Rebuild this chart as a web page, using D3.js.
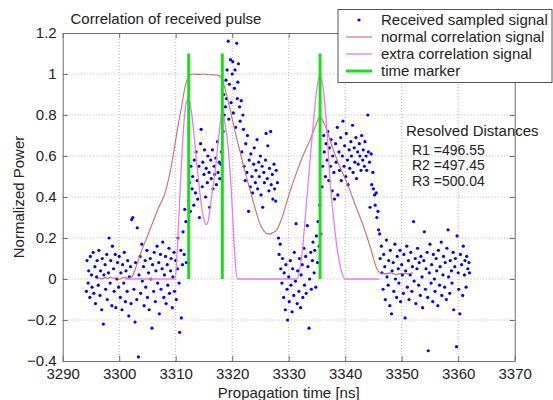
<!DOCTYPE html>
<html>
<head>
<meta charset="utf-8">
<script src="https://cdn.jsdelivr.net/npm/d3@7"></script>
<style>
  html, body { margin: 0; padding: 0; background: #fff; }
  svg { display: block; }
  text { font-family: Arial, "Liberation Sans", Helvetica, sans-serif; fill: #222; }
</style>
</head>
<body>
<svg id="chart" width="553" height="400"></svg>
<script>
// ---------- DATA ----------
const xTicks = [3290, 3300, 3310, 3320, 3330, 3340, 3350, 3360, 3370];
const yTicks = [-0.4, -0.2, 0, 0.2, 0.4, 0.6, 0.8, 1, 1.2];

const seriesNames = ["Received sampled signal", "normal correlation signal", "extra correlation signal", "time marker"];

// received sampled signal: [time ns, normalized power]
const sampledSignal = [
[3294.2,-0.06],[3294.3,0.09],[3294.5,-0.02],[3294.6,0.04],[3294.8,-0.09],[3294.9,0.11],[3295.1,0.02],[3295.2,-0.04],[3295.4,0.13],[3295.5,-0.07],
[3295.7,0.06],[3295.8,-0.12],[3296.0,0.01],[3296.1,0.09],[3296.3,-0.03],[3296.4,0.14],[3296.6,-0.08],[3296.7,0.04],[3296.9,-0.15],[3297.0,0.1],
[3297.2,-0.22],[3297.3,0.02],[3297.5,0.07],[3297.6,-0.05],[3297.8,0.12],[3297.9,-0.1],[3298.1,0.03],[3298.2,0.2],[3298.4,-0.02],[3298.5,0.09],
[3298.7,-0.13],[3298.8,0.16],[3299.0,0.05],[3299.1,-0.06],[3299.3,0.12],[3299.4,-0.14],[3299.6,0.0],[3299.7,0.08],[3299.9,-0.04],[3300.0,0.11],
[3300.2,-0.09],[3300.3,0.03],[3300.5,-0.15],[3300.6,0.07],[3300.8,-0.02],[3300.9,0.13],[3301.1,-0.11],[3301.2,0.04],[3301.4,-0.06],[3301.5,0.09],
[3301.7,-0.18],[3301.8,0.01],[3302.0,0.06],[3302.1,-0.12],[3302.2,0.29],
[3302.4,0.3],[3302.6,-0.05],[3302.8,-0.21],[3302.9,0.08],[3303.1,-0.1],[3303.2,0.25],[3303.4,-0.38],[3303.5,0.02],[3303.7,0.11],[3303.8,-0.07],
[3304.0,0.17],[3304.1,-0.01],[3304.3,0.06],[3304.4,-0.13],[3304.6,0.09],[3304.7,-0.04],[3304.9,0.14],[3305.0,-0.09],[3305.2,0.03],[3305.3,-0.15],
[3305.5,0.1],[3305.6,0.0],[3305.8,-0.24],[3305.9,0.07],[3306.1,-0.06],[3306.2,0.13],[3306.4,-0.11],[3306.5,0.04],[3306.7,0.16],[3306.8,-0.02],
[3307.0,0.08],[3307.1,-0.17],[3307.3,0.12],[3307.4,-0.05],[3307.6,0.05],[3307.7,0.18],[3307.9,-0.09],[3308.0,0.02],[3308.2,0.11],[3308.3,-0.12],
[3308.5,0.07],[3308.6,-0.03],[3308.8,0.15],[3308.9,-0.07],[3309.1,0.04],[3309.2,0.1],[3309.4,-0.14],[3309.5,0.01],[3309.7,0.13],[3309.8,-0.06],
[3310.0,0.09],[3310.1,-0.1],[3310.3,0.05],[3310.4,0.2],[3310.6,-0.02],[3310.7,-0.26],[3310.9,0.14],[3311.0,-0.19],[3311.2,0.07],[3311.3,0.23],
[3311.5,0.12],[3311.6,0.34],[3311.8,0.28],[3311.9,0.08],
[3312.3,0.38],[3312.4,0.47],[3312.6,0.33],[3312.7,0.55],[3312.9,0.44],[3313.0,0.5],[3313.2,0.36],[3313.3,0.58],[3313.5,0.42],[3313.6,0.62],
[3313.8,0.48],[3313.9,0.39],[3314.1,0.55],[3314.2,0.3],[3314.4,0.66],[3314.5,0.73],[3314.7,0.45],[3314.8,0.57],[3315.0,0.51],[3315.1,0.63],
[3315.3,0.4],[3315.4,0.54],[3315.6,0.47],[3315.7,0.6],[3315.9,0.52],[3316.0,0.35],[3316.2,0.58],[3316.3,0.49],[3316.5,0.63],[3316.6,0.44],
[3316.8,0.55],[3316.9,0.51],[3317.1,0.59],[3317.2,0.46],[3317.4,0.67],[3317.5,0.52],[3317.7,0.57],[3317.8,0.49],[3318.0,0.56],[3318.1,0.62],
[3318.4,0.72],[3318.5,0.9],[3318.6,0.8],[3318.8,0.84],[3318.9,0.97],[3319.0,0.88],[3319.1,1.02],[3319.3,1.16],[3319.4,0.78],[3319.5,0.95],
[3319.7,1.07],[3319.8,0.86],[3320.0,1.0],[3320.1,1.06],[3320.2,0.81],[3320.4,0.93],[3320.5,1.02],[3320.6,0.74],[3320.8,1.15],[3320.9,0.88],
[3321.0,0.96],[3321.1,1.05],[3321.3,0.84],[3321.4,0.77],
[3321.6,0.87],[3321.7,0.62],[3321.9,0.8],[3322.0,0.73],[3322.1,0.55],[3322.3,0.48],[3322.4,0.66],[3322.6,0.52],[3322.7,0.7],[3322.9,0.33],
[3323.0,0.58],[3323.2,0.45],[3323.3,0.61],[3323.5,0.5],[3323.6,0.42],[3323.8,0.56],[3323.9,0.64],[3324.1,0.47],[3324.2,0.53],[3324.4,0.68],
[3324.5,0.44],[3324.7,0.57],[3324.8,0.5],[3325.0,0.6],[3325.1,0.41],[3325.3,0.55],[3325.4,0.35],[3325.6,0.52],[3325.7,0.47],[3325.9,0.58],
[3326.0,0.71],[3326.2,0.49],[3326.3,0.65],[3326.5,0.43],[3326.6,0.54],[3326.8,0.72],[3326.9,0.46],[3327.1,0.51],[3327.2,0.39],[3327.4,0.56],
[3327.5,0.44],[3327.7,0.38],[3327.8,0.53],[3328.0,0.47],
[3328.2,0.2],[3328.3,0.12],[3328.5,0.17],[3328.6,0.05],[3328.8,-0.02],[3328.9,0.1],[3329.1,-0.09],[3329.2,0.03],[3329.4,-0.15],[3329.5,0.07],
[3329.7,-0.05],[3329.8,-0.2],[3330.0,0.01],[3330.1,-0.11],[3330.3,0.09],[3330.4,-0.03],[3330.6,-0.16],[3330.7,0.05],[3330.9,-0.08],[3331.0,0.13],
[3331.2,-0.01],[3331.3,0.27],[3331.5,-0.12],[3331.6,0.04],[3331.8,-0.06],[3331.9,0.1],[3332.1,-0.14],[3332.2,0.02],[3332.4,0.07],[3332.5,-0.09],
[3332.7,0.15],[3332.8,-0.03],[3333.0,0.11],[3333.1,-0.07],[3333.3,0.26],[3333.4,0.06],[3333.6,-0.24],[3333.7,0.0],[3333.9,0.13],[3334.0,-0.05],
[3334.2,0.09],[3334.3,0.18],[3334.5,0.03],[3334.6,0.14],[3334.8,-0.04],[3334.9,0.21],[3335.1,0.08],[3335.2,0.28],[3335.4,0.16],[3335.5,0.36],
[3335.7,0.22],
[3335.9,0.45],[3336.0,0.55],[3336.2,0.7],[3336.3,0.62],[3336.5,0.5],[3336.6,0.66],[3336.8,0.58],[3336.9,0.72],[3337.1,0.48],[3337.2,0.64],
[3337.4,0.55],[3337.5,0.68],[3337.7,0.43],[3337.8,0.6],[3338.0,0.52],[3338.1,0.39],[3338.3,0.66],[3338.4,0.57],[3338.6,0.74],[3338.7,0.41],
[3338.9,0.62],[3339.0,0.53],[3339.2,0.69],[3339.3,0.48],[3339.5,0.6],[3339.6,0.77],[3339.8,0.55],[3339.9,0.65],[3340.1,0.5],[3340.2,0.71],
[3340.4,0.58],[3340.5,0.46],[3340.7,0.63],[3340.8,0.54],[3341.0,0.67],[3341.1,0.6],[3341.3,0.75],[3341.4,0.52],[3341.6,0.64],[3341.7,0.57],
[3341.9,0.69],[3342.0,0.49],[3342.2,0.62],[3342.3,0.56],[3342.5,0.66],[3342.6,0.6],[3342.8,0.53],[3342.9,0.7],[3343.1,0.58],[3343.2,0.63],
[3343.4,0.55],[3343.5,0.67],[3343.7,0.6],[3343.8,0.53],[3344.0,0.8],[3344.1,0.62],[3344.3,0.57],[3344.4,0.35],[3344.6,0.61],[3344.7,0.46],
[3344.9,0.52],[3345.0,0.44],[3345.2,0.41],[3345.3,0.36],[3345.5,0.42],[3345.6,0.3],[3345.8,0.33],[3345.9,0.24],
[3346.1,0.22],[3346.2,0.1],[3346.4,0.16],[3346.5,0.03],[3346.7,-0.05],[3346.8,0.12],[3347.0,0.06],[3347.1,-0.1],[3347.3,0.19],[3347.4,0.01],
[3347.6,-0.03],[3347.7,0.09],[3347.9,-0.13],[3348.0,0.14],[3348.2,-0.17],[3348.3,0.04],[3348.5,0.08],[3348.6,-0.06],[3348.8,0.17],[3348.9,0.0],
[3349.1,-0.09],[3349.2,0.11],[3349.4,0.05],[3349.5,-0.02],[3349.7,0.14],[3349.8,-0.11],[3350.0,0.07],[3350.1,0.02],[3350.3,-0.07],[3350.4,0.12],
[3350.6,-0.19],[3350.7,0.04],[3350.9,0.16],[3351.0,-0.04],[3351.2,0.09],[3351.3,-0.1],[3351.5,0.02],[3351.6,0.13],[3351.8,-0.06],[3351.9,0.06],
[3352.1,0.28],[3352.2,-0.01],[3352.4,0.1],[3352.5,-0.12],[3352.7,0.05],[3352.8,0.15],[3353.0,-0.03],[3353.1,0.08],[3353.3,-0.08],[3353.4,0.11],
[3353.6,0.01],[3353.7,-0.14],[3353.9,0.09],[3354.0,0.23],[3354.2,-0.05],[3354.3,0.05],[3354.5,0.13],[3354.6,-0.09],[3354.7,-0.35],[3354.9,0.03],
[3355.0,0.17],[3355.2,-0.02],[3355.3,0.07],[3355.5,-0.11],[3355.6,0.12],[3355.8,0.0],[3355.9,-0.06],[3356.1,0.1],[3356.2,0.04],[3356.4,-0.13],
[3356.5,0.14],[3356.7,-0.03],[3356.8,0.06],[3357.0,0.18],[3357.1,-0.08],[3357.3,0.02],[3357.4,0.11],[3357.6,-0.04],[3357.7,0.08],[3357.9,-0.1],
[3358.0,0.15],[3358.2,0.24],[3358.3,0.01],[3358.5,-0.07],[3358.6,0.09],[3358.8,0.04],[3358.9,-0.02],[3359.1,0.13],[3359.2,-0.15],[3359.4,0.06],
[3359.5,0.1],[3359.7,-0.33],[3359.8,0.21],[3360.0,0.03],[3360.1,-0.05],[3360.3,-0.17],[3360.4,0.12],[3360.6,0.07],[3360.8,-0.08],[3360.9,0.16],
[3361.1,0.02],[3361.2,0.09],[3361.4,-0.04],[3361.5,0.11],[3361.7,0.05],[3361.9,0.08],[3362.0,0.03]
];

// normal correlation signal
const normalCorrelation = [
[3296.0,0.0],[3296.5,0.005],[3297.0,0.0],[3297.5,0.008],[3298.0,0.002],[3298.5,0.01],[3299.0,0.003],[3299.5,0.006],[3300.0,0.0],
[3300.5,0.005],[3301.0,0.01],[3301.5,0.004],[3302.2,0.01],[3303.0,0.06],[3304.0,0.14],[3305.0,0.21],[3306.0,0.28],[3307.0,0.35],
[3308.0,0.41],[3309.0,0.52],[3309.6,0.61],[3310.3,0.73],[3311.1,0.85],[3311.6,0.93],[3312.0,0.97],[3312.5,0.995],[3313.0,1.0],
[3314.0,0.998],[3315.0,1.0],[3316.0,0.996],[3317.0,0.995],[3317.8,0.99],[3318.3,0.97],[3318.8,0.92],[3319.6,0.83],[3320.5,0.72],
[3321.4,0.62],[3322.3,0.52],[3323.1,0.44],[3324.0,0.35],[3324.9,0.27],[3325.6,0.235],[3326.4,0.22],[3327.2,0.225],[3327.9,0.24],
[3328.7,0.29],[3329.6,0.37],[3330.5,0.45],[3331.4,0.52],[3332.5,0.6],[3333.8,0.68],[3334.8,0.75],[3335.5,0.79],[3336.1,0.77],
[3336.7,0.73],[3337.9,0.63],[3339.0,0.55],[3340.3,0.47],[3341.8,0.36],[3343.2,0.26],[3344.5,0.15],[3345.6,0.05],[3346.2,0.03],
[3347.0,0.025],[3348.0,0.03],[3349.0,0.022],[3350.0,0.028],[3351.0,0.025],[3352.0,0.03]
];

// extra correlation signal
const extraCorrelation = [
[3301.0,0],[3309.9,0],[3310.3,0.15],[3310.8,0.44],[3311.3,0.7],[3311.8,0.85],[3312.3,0.886],[3312.7,0.83],[3313.1,0.74],[3313.7,0.57],
[3314.2,0.44],[3314.6,0.35],[3315.0,0.29],[3315.4,0.265],[3315.8,0.29],[3316.1,0.35],[3316.6,0.45],[3317.0,0.53],[3317.4,0.64],
[3317.8,0.74],[3318.25,0.825],[3318.7,0.76],[3319.3,0.64],[3319.9,0.4],[3320.4,0.14],[3320.9,0],[3331.4,0],[3332.3,0.11],[3333.2,0.39],
[3334.1,0.68],[3335.0,0.93],[3335.5,0.995],[3336.1,0.93],[3336.7,0.75],[3337.3,0.49],[3338.2,0.23],[3339.1,0.065],[3340.0,0],[3346.0,0]
];

// time markers
const markerTimes = [3312.3, 3318.25, 3335.55];
const markerHeight = 1.1;

const resolvedTitle = "Resolved Distances";
const resolvedLabels = ["R1 =496.55", "R2 =497.45", "R3 =500.04"];

// ---------- DRAW ----------
const svg = d3.select("#chart");
const L = 62.7, R = 514.7, T = 33, B = 361;
const x = d3.scaleLinear().domain([3290, 3370]).range([L, R]);
const y = d3.scaleLinear().domain([-0.4, 1.2]).range([B, T]);
const axisColor = "#6e6e6e";
const fontSize = "15px";
const blue = "#0000ff", red = "#cd6a6a", pink = "#e77de7", green = "#18e018";

// grid
const grid = svg.append("g");
grid.selectAll(".gx").data(xTicks.slice(1, -1)).join("line")
  .attr("x1", d => x(d)).attr("x2", d => x(d)).attr("y1", T).attr("y2", B)
  .attr("stroke", "#b4b4b4").attr("stroke-dasharray", "1,2").attr("stroke-width", 1);
grid.selectAll(".gy").data(yTicks.slice(1, -1)).join("line")
  .attr("x1", L).attr("x2", R).attr("y1", d => y(d)).attr("y2", d => y(d))
  .attr("stroke", "#b4b4b4").attr("stroke-dasharray", "1,2").attr("stroke-width", 1);

// data
svg.append("g").selectAll("circle").data(sampledSignal).join("circle")
  .attr("cx", d => x(d[0])).attr("cy", d => y(d[1])).attr("r", 1.6).attr("fill", blue);

const line = d3.line().x(d => x(d[0])).y(d => y(d[1])).curve(d3.curveMonotoneX);
svg.append("path").datum(normalCorrelation).attr("d", line)
  .attr("fill", "none").attr("stroke", red).attr("stroke-width", 1.1);
svg.append("path").datum(extraCorrelation).attr("d", line)
  .attr("fill", "none").attr("stroke", pink).attr("stroke-width", 1.3);

svg.append("g").selectAll("line").data(markerTimes).join("line")
  .attr("x1", d => x(d)).attr("x2", d => x(d)).attr("y1", y(0)).attr("y2", y(markerHeight))
  .attr("stroke", green).attr("stroke-width", 3);

// axes
function styleAxis(g) {
  g.select(".domain").attr("stroke", axisColor);
  g.selectAll(".tick line").attr("stroke", axisColor);
  g.selectAll(".tick text").attr("fill", "#222").style("font-size", fontSize)
    .style("font-family", "Arial, 'Liberation Sans', sans-serif");
}
svg.append("g").attr("transform", `translate(0,${B})`)
  .call(d3.axisBottom(x).tickValues(xTicks).tickFormat(d3.format("d")).tickSizeInner(-5).tickSizeOuter(0).tickPadding(7))
  .call(styleAxis);
svg.append("g").attr("transform", `translate(0,${T})`)
  .call(d3.axisTop(x).tickValues(xTicks).tickFormat("").tickSizeInner(-5).tickSizeOuter(0))
  .call(styleAxis);
svg.append("g").attr("transform", `translate(${L},0)`)
  .call(d3.axisLeft(y).tickValues(yTicks).tickFormat(d => d3.format("")(+d.toFixed(1))).tickSizeInner(-5).tickSizeOuter(0).tickPadding(6))
  .call(styleAxis);
svg.append("g").attr("transform", `translate(${R},0)`)
  .call(d3.axisRight(y).tickValues(yTicks).tickFormat("").tickSizeInner(-5).tickSizeOuter(0))
  .call(styleAxis);

// title & labels
svg.append("text").attr("x", 166).attr("y", 24).attr("text-anchor", "middle")
  .style("font-size", fontSize).text("Correlation of received pulse");
svg.append("text").attr("x", (L + R) / 2).attr("y", 398).attr("text-anchor", "middle")
  .style("font-size", fontSize).text("Propagation time [ns]");
svg.append("text").attr("transform", `translate(24,${(T + B) / 2}) rotate(-90)`).attr("text-anchor", "middle")
  .style("font-size", fontSize).text("Normalized Power");

// resolved distances
svg.append("text").attr("x", 406).attr("y", 136).style("font-size", fontSize).text(resolvedTitle);
svg.append("g").selectAll("text").data(resolvedLabels).join("text")
  .attr("x", 412).attr("y", (d, i) => 154.5 + i * 15.8).style("font-size", "14px").text(d => d);

// legend
const lg = svg.append("g");
lg.append("rect").attr("x", 338).attr("y", 9.5).attr("width", 214).attr("height", 73)
  .attr("fill", "#fff").attr("stroke", "#555").attr("stroke-width", 1);
const rowY = [20, 37, 54, 71];
const rows = lg.selectAll(".row").data(seriesNames).join("g").attr("transform", (d, i) => `translate(0,${rowY[i]})`);
rows.append("text").attr("x", 381).attr("y", 5).style("font-size", fontSize).text(d => d);
rows.each(function(d, i) {
  const g = d3.select(this);
  if (i === 0) g.append("circle").attr("cx", 359).attr("cy", 0).attr("r", 1.6).attr("fill", blue);
  else {
    const col = ["", red, pink, green][i];
    const w = [0, 1.1, 1.3, 3][i];
    g.append("line").attr("x1", 346).attr("x2", 372).attr("y1", 0).attr("y2", 0).attr("stroke", col).attr("stroke-width", w);
  }
});
</script>
</body>
</html>
